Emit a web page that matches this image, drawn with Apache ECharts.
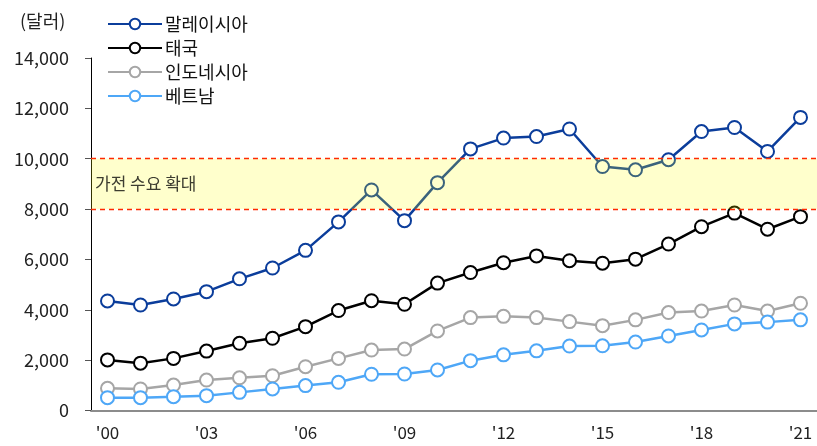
<!DOCTYPE html>
<html>
<head>
<meta charset="utf-8">
<script src="https://cdn.jsdelivr.net/npm/echarts@6/dist/echarts.min.js"></script>
<style>
    html, body {margin: 0; padding: 0; background: #fff;}
    #chart {width: 817px; height: 446px;}
</style>
</head>
<body>
<div id="chart"></div>
<script>
const years = ["'00", "'01", "'02", "'03", "'04", "'05", "'06", "'07", "'08", "'09", "'10",
    "'11", "'12", "'13", "'14", "'15", "'16", "'17", "'18", "'19", "'20", "'21"];

const malaysia = [4350, 4190, 4430, 4720, 5230, 5660, 6360, 7490, 8760, 7540, 9050,
    10390, 10820, 10880, 11180, 9690, 9560, 9960, 11080, 11240, 10290, 11640];
const thailand = [2010, 1880, 2070, 2360, 2670, 2870, 3330, 3970, 4360, 4220, 5060,
    5480, 5870, 6140, 5950, 5850, 6010, 6610, 7300, 7840, 7200, 7700];
const indonesia = [880, 855, 1010, 1210, 1300, 1380, 1740, 2070, 2400, 2440, 3160,
    3690, 3740, 3690, 3530, 3370, 3600, 3890, 3950, 4190, 3950, 4260];
const vietnam = [510, 510, 550, 590, 720, 855, 990, 1120, 1440, 1450, 1610,
    1980, 2210, 2370, 2560, 2570, 2720, 2960, 3200, 3440, 3510, 3600];

const bandRange = [8000, 10000];
const bandLabel = '가전 수요 확대';

const font = '"Noto Sans CJK KR", "Noto Sans", sans-serif';

const lineSeries = (name, data, color) => ({
    name: name,
    type: 'line',
    data: data,
    symbol: 'emptyCircle',
    symbolSize: 13,
    lineStyle: {color: color, width: 2.5},
    itemStyle: {color: color, borderWidth: 2},
    z: 2
});

const chart = echarts.init(document.getElementById('chart'));
chart.setOption({
    animation: false,
    textStyle: {fontFamily: font},
    title: {
        text: '(달러)',
        left: 15, top: 7,
        textStyle: {fontFamily: font, fontSize: 18, fontWeight: 'normal', color: '#222'}
    },
    legend: {
        orient: 'vertical',
        left: 102, top: 10,
        itemWidth: 54, itemHeight: 13, itemGap: 6,
        data: ['말레이시아', '태국', '인도네시아', '베트남'],
        textStyle: {fontFamily: font, fontSize: 18, color: '#111', padding: [0, 0, 0, -2]}
    },
    grid: {left: 91, right: 0, top: 58, bottom: 35.5},
    xAxis: {
        type: 'category',
        data: years,
        boundaryGap: true,
        axisLine: {lineStyle: {color: '#8c8c8c', width: 2}},
        axisTick: {interval: 2, length: 6, lineStyle: {color: '#333'}},
        axisLabel: {interval: 2, margin: 14, fontSize: 17, color: '#222', fontFamily: font}
    },
    yAxis: {
        type: 'value',
        min: 0, max: 14000, interval: 2000,
        splitLine: {show: false},
        axisLine: {show: true, lineStyle: {color: '#000', width: 1}},
        axisTick: {show: true, length: 6, lineStyle: {color: '#555'}},
        axisLabel: {
            margin: 22, fontSize: 18, color: '#222', fontFamily: font,
            formatter: v => v.toLocaleString('en-US')
        }
    },
    series: [
        lineSeries('말레이시아', malaysia, '#0b3d9b'),
        lineSeries('태국', thailand, '#000000'),
        lineSeries('인도네시아', indonesia, '#a6a6a6'),
        lineSeries('베트남', vietnam, '#4ea7f7'),
        {
            type: 'line',
            data: years.map(() => null),
            symbol: 'none',
            silent: true,
            z: 10,
            markArea: {
                silent: true,
                z: 10,
                itemStyle: {color: 'rgba(255,255,0,0.2)'},
                label: {
                    show: true,
                    position: 'insideLeft',
                    distance: 4,
                    fontFamily: font, fontSize: 17, color: '#3d3d30'
                },
                data: [[{yAxis: bandRange[0], name: bandLabel}, {yAxis: bandRange[1]}]]
            },
            markLine: {
                silent: true,
                symbol: 'none',
                z: 11,
                label: {show: false},
                lineStyle: {color: '#ff2a00', type: [5, 4], width: 1.3},
                data: [{yAxis: bandRange[0]}, {yAxis: bandRange[1]}]
            }
        }
    ]
});
</script>
</body>
</html>
